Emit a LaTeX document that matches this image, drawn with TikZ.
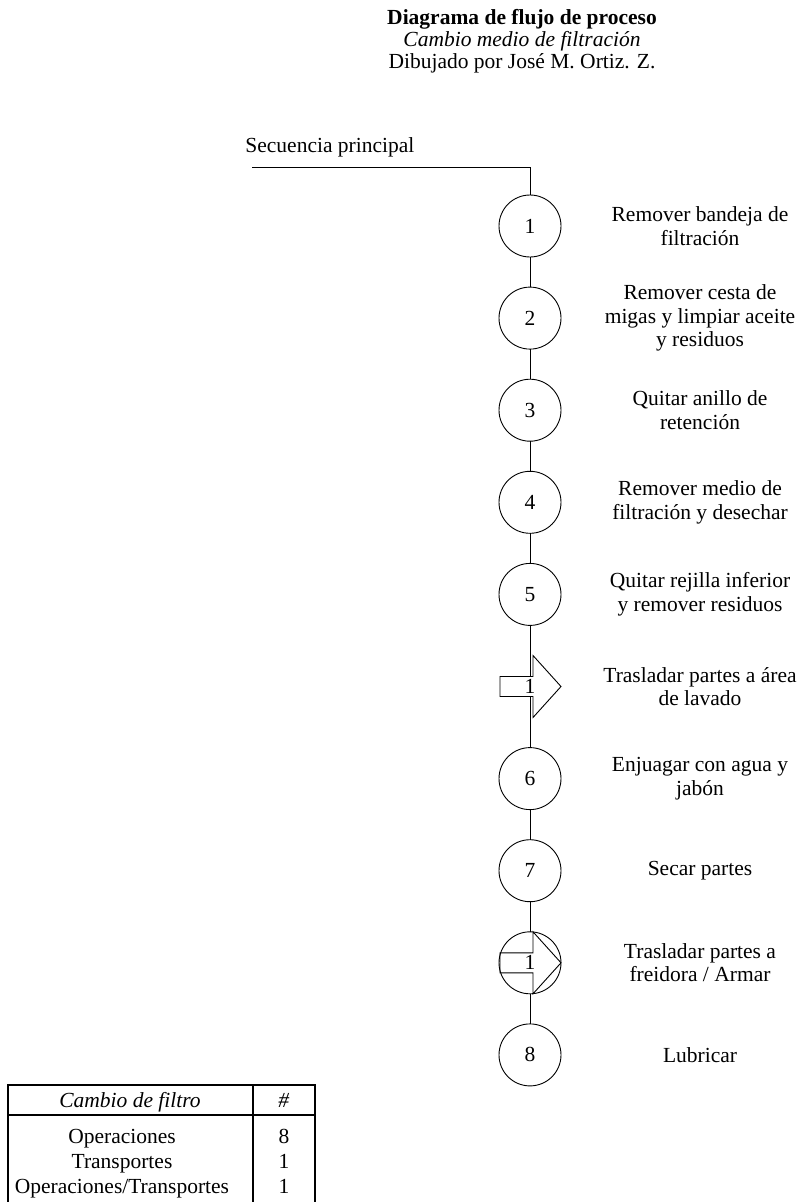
\documentclass[tikz,border=0pt]{standalone}
\usepackage{fontspec}
\setmainfont{Liberation Serif}
\usetikzlibrary{positioning}

\begin{document}
\begin{tikzpicture}[
x=1pt, y=1pt,
font=\fontsize{21.5}{23.5}\selectfont,
line width=0.9pt,
node distance=30.1pt,
opnode/.style={circle, draw, minimum size=62pt, inner sep=0pt, outer sep=0pt},
trnode/.style={circle, minimum size=62pt, inner sep=0pt, outer sep=0pt},
steptext/.style={align=center, inner sep=0pt},
tablerow/.style={anchor=base, inner sep=0pt},
]
\useasboundingbox (0,0) rectangle (801,-1202);

%Title
\node[steptext, font=\fontsize{21.5}{21.8}\selectfont] (title) at (522,-41.5)
	{\textbf{Diagrama de flujo de proceso}\\\textit{Cambio medio de filtración}\\Dibujado por José M. Ortiz. Z.};

%Nodes
\node[anchor=base west, inner sep=0pt]	(seqtext)	at (245,-152)		{Secuencia principal};
\coordinate								(seqstart)	at (252,-167);
\node[opnode]		(op1)		at (530,-226)		{1};
\node[opnode]		(op2)		[below=of op1]		{2};
\node[opnode]		(op3)		[below=of op2]		{3};
\node[opnode]		(op4)		[below=of op3]		{4};
\node[opnode]		(op5)		[below=of op4]		{5};
\node[trnode]		(tr1)		[below=of op5]		{1};
\node[opnode]		(op6)		[below=of tr1]		{6};
\node[opnode]		(op7)		[below=of op6]		{7};
\node[opnode]		(ot1)		[below=of op7]		{1};
\node[opnode]		(op8)		[below=of ot1]		{8};

%Arrows
\draw[shift={(tr1.center)}] (3,31) -- (31,0) -- (3,-31) -- (3,-10) -- (-30,-10) -- (-30,10) -- (3,10) -- cycle;
\draw[shift={(ot1.center)}] (3,31) -- (31,0) -- (3,-31) -- (3,-10) -- (-30,-10) -- (-30,10) -- (3,10) -- cycle;

%Lines
\draw (seqstart) -| (op1.north);
\draw (op1) -- (op2);
\draw (op2) -- (op3);
\draw (op3) -- (op4);
\draw (op4) -- (op5);
\draw (op5.south) -- ([yshift=10pt]tr1.center);
\draw ([yshift=-10pt]tr1.center) -- (op6.north);
\draw (op6) -- (op7);
\draw (op7) -- (ot1);
\draw (ot1) -- (op8);

%Labels
\coordinate (lx) at (700,0);
\node[steptext]	(txt1)	at (op1 -| lx)	{Remover bandeja de\\filtración};
\node[steptext]	(txt2)	at (op2 -| lx)	{Remover cesta de\\migas y limpiar aceite\\y residuos};
\node[steptext]	(txt3)	at (op3 -| lx)	{Quitar anillo de\\retención};
\node[steptext]	(txt4)	at (op4 -| lx)	{Remover medio de\\filtración y desechar};
\node[steptext]	(txt5)	at (op5 -| lx)	{Quitar rejilla inferior\\y remover residuos};
\node[steptext]	(txt6)	at (tr1 -| lx)	{Trasladar partes a área\\de lavado};
\node[steptext]	(txt7)	at (op6 -| lx)	{Enjuagar con agua y\\jabón};
\node[steptext]	(txt8)	at (op7 -| lx)	{Secar partes};
\node[steptext]	(txt9)	at (ot1 -| lx)	{Trasladar partes a\\freidora / Armar};
\node[steptext]	(txt10)	at (op8 -| lx)	{Lubricar};

%Table
\draw[line width=1.2pt] (8,-1202) -- (8,-1085) -- (315,-1085) -- (315,-1202);
\draw[line width=1.2pt] (8,-1115) -- (315,-1115);
\draw[line width=1.2pt] (253,-1085) -- (253,-1202);
\node[tablerow]	(thead)		at (130,-1107)	{\textit{Cambio de filtro}};
\node[tablerow]	(thash)		at (284,-1107)	{\textit{\#}};
\node[tablerow]	(rowop)		at (122,-1143)	{Operaciones};
\node[tablerow]	(rowopn)	at (284,-1143)	{8};
\node[tablerow]	(rowtr)		at (122,-1168)	{Transportes};
\node[tablerow]	(rowtrn)	at (284,-1168)	{1};
\node[tablerow]	(rowot)		at (122,-1193)	{Operaciones/Transportes};
\node[tablerow]	(rowotn)	at (284,-1193)	{1};
\end{tikzpicture}
\end{document}
